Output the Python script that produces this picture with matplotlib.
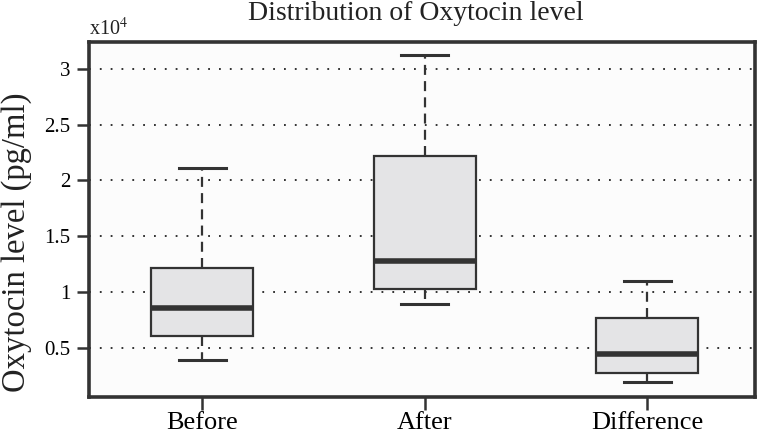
import matplotlib
matplotlib.use("Agg")
import matplotlib.pyplot as plt
from matplotlib.ticker import FuncFormatter

plt.rcParams['font.family'] = ['Liberation Serif', 'DejaVu Serif']
plt.rcParams['mathtext.fontset'] = 'stix'

# box statistics (pg/ml)
groups = ["Before", "After", "Difference"]
whislo = [3900, 8900, 2000]
q1 = [6100, 10300, 2800]
med = [8600, 12800, 4500]
q3 = [12200, 22200, 7700]
whishi = [21100, 31200, 11000]

ytick_vals = [5000, 10000, 15000, 20000, 25000, 30000]

stats = []
for i, name in enumerate(groups):
    stats.append(dict(label=name, whislo=whislo[i], q1=q1[i], med=med[i],
                      q3=q3[i], whishi=whishi[i], fliers=[]))

fig = plt.figure(figsize=(7.59, 4.36), dpi=100)
ax = fig.add_axes([0.117, 0.089, 0.878, 0.815])
ax.set_facecolor('#fcfcfc')

dark = '#333333'
ax.bxp(stats, positions=[1, 2, 3], widths=0.46, patch_artist=True,
       showfliers=False,
       boxprops=dict(facecolor='#e4e4e6', edgecolor=dark, linewidth=1.6),
       medianprops=dict(color=dark, linewidth=4),
       whiskerprops=dict(color=dark, linewidth=1.6, linestyle=(0, (4.5, 2.8))),
       capprops=dict(color=dark, linewidth=2.2),
       capwidths=0.21, zorder=3)

ax.set_xlim(0.49, 3.485)
ax.set_ylim(600, 32400)
ax.set_yticks(ytick_vals)
ax.yaxis.set_major_formatter(FuncFormatter(lambda v, p: '%g' % (v / 1e4)))

ax.yaxis.grid(True, linestyle=(0, (1, 5)), color='#222222', linewidth=1.3)
ax.set_axisbelow(True)

for s in ax.spines.values():
    s.set_linewidth(2.6)
    s.set_color(dark)

ax.tick_params(axis='y', direction='out', length=9, width=1.8, color=dark,
               labelsize=15, pad=4)
ax.tick_params(axis='x', direction='out', length=9, width=1.8, color=dark,
               labelsize=19, pad=2)

fig.text(17 / 759, 1 - 242 / 436, "Oxytocin level (pg/ml)", fontsize=23.5,
         rotation=90, ha='center', va='center', color='#222222')
fig.text(416 / 759, 1 - 20 / 436, "Distribution of Oxytocin level",
         fontsize=20, ha='center', va='baseline', color='#222222')
fig.text(89 / 759, 1 - 35 / 436, "x10$^4$", fontsize=14.5,
         ha='left', va='baseline', color='#222222')

fig.savefig("out.png", dpi=100)
